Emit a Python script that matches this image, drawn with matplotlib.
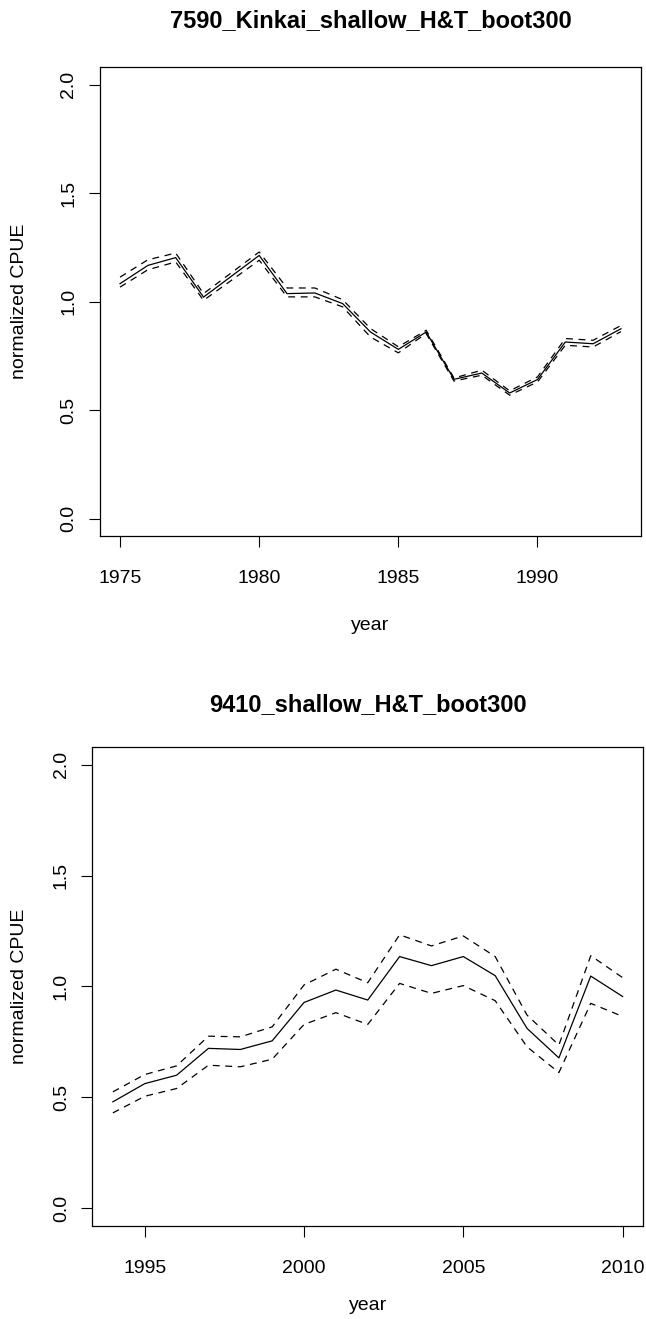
from __future__ import annotations

import matplotlib

matplotlib.use("Agg")
from matplotlib import pyplot as plt


# 7590 Kinkai shallow (top panel)
KINKAI_YEARS = list(range(1975, 1994))
KINKAI_CPUE = [1.083, 1.167, 1.203, 1.021, 1.117, 1.213, 1.037, 1.040, 0.991, 0.860,
               0.780, 0.860, 0.642, 0.671, 0.579, 0.641, 0.814, 0.806, 0.875]
KINKAI_UPPER = [1.113, 1.193, 1.224, 1.037, 1.133, 1.229, 1.063, 1.063, 1.009, 0.876,
                0.792, 0.868, 0.648, 0.684, 0.589, 0.653, 0.830, 0.822, 0.890]
KINKAI_LOWER = [1.067, 1.147, 1.183, 1.006, 1.098, 1.191, 1.022, 1.022, 0.976, 0.837,
                0.764, 0.853, 0.634, 0.661, 0.569, 0.630, 0.799, 0.791, 0.862]

# 9410 shallow (bottom panel)
SHALLOW_YEARS = list(range(1994, 2011))
SHALLOW_CPUE = [0.480, 0.562, 0.600, 0.721, 0.716, 0.755, 0.928, 0.984, 0.939, 1.135,
                1.094, 1.135, 1.049, 0.811, 0.678, 1.047, 0.955]
SHALLOW_UPPER = [0.525, 0.603, 0.642, 0.776, 0.773, 0.818, 1.007, 1.078, 1.017, 1.233,
                 1.183, 1.228, 1.135, 0.871, 0.736, 1.139, 1.040]
SHALLOW_LOWER = [0.430, 0.505, 0.540, 0.645, 0.638, 0.672, 0.829, 0.882, 0.829, 1.014,
                 0.969, 1.004, 0.936, 0.728, 0.612, 0.924, 0.865]

Y_TICKS = [0.0, 0.5, 1.0, 1.5, 2.0]
TOP_X_TICKS = [1975, 1980, 1985, 1990]
BOTTOM_X_TICKS = [1995, 2000, 2005, 2010]

FIG_W, FIG_H = 646, 1319
BASE_FONT_SIZE = 14
TITLE_FONT_SIZE = 17


def _px_rect(left, top, right, bottom):
    # pixel box -> figure fraction
    return [left / FIG_W, 1 - bottom / FIG_H, (right - left) / FIG_W, (bottom - top) / FIG_H]


def draw_panel(fig, rect, years, cpue, upper, lower, xticks, title,
               title_y, xlabel_y, ylabel_x):
    ax = fig.add_axes(rect)
    ax.plot(years, cpue, color="black", linewidth=0.9)
    for band in (upper, lower):
        ax.plot(years, band, color="black", linewidth=0.9, linestyle=(0, (5.5, 4.5)))

    span = years[-1] - years[0]
    ax.set_xlim(years[0] - 0.04 * span, years[-1] + 0.04 * span)
    ax.set_ylim(-0.08, 2.08)
    ax.set_xticks(xticks)
    ax.set_yticks(Y_TICKS)
    ax.set_yticklabels([f"{v:.1f}" for v in Y_TICKS], rotation=90, va="center")

    ax.tick_params(axis="both", direction="out", length=8.2, width=0.8,
                   labelsize=BASE_FONT_SIZE)
    ax.tick_params(axis="x", pad=16)
    ax.tick_params(axis="y", pad=8)
    for spine in ax.spines.values():
        spine.set_linewidth(0.9)

    # R-style label placement: centre of the text at fixed distance from the box
    ax.set_xlabel("year", fontsize=BASE_FONT_SIZE, va="center")
    ax.xaxis.set_label_coords(0.5, xlabel_y)
    ax.set_ylabel("normalized CPUE", fontsize=BASE_FONT_SIZE, va="center")
    ax.yaxis.set_label_coords(ylabel_x, 0.5)

    ax.text(0.5, title_y, title, transform=ax.transAxes, ha="center", va="center",
            fontsize=TITLE_FONT_SIZE, fontweight="bold")
    return ax


def main():
    plt.rcParams.update({
        "font.family": ["Liberation Sans", "DejaVu Sans"],
        "font.size": BASE_FONT_SIZE,
    })
    fig = plt.figure(figsize=(FIG_W / 100, FIG_H / 100), dpi=100)

    draw_panel(fig, _px_rect(100, 67.3, 641, 536),
               KINKAI_YEARS, KINKAI_CPUE, KINKAI_UPPER, KINKAI_LOWER,
               TOP_X_TICKS, "7590_Kinkai_shallow_H&T_boot300",
               title_y=(536 - 21) / 468.7, xlabel_y=(536 - 625) / 468.7,
               ylabel_x=(20 - 100) / 541)
    draw_panel(fig, _px_rect(92.5, 747, 643, 1226),
               SHALLOW_YEARS, SHALLOW_CPUE, SHALLOW_UPPER, SHALLOW_LOWER,
               BOTTOM_X_TICKS, "9410_shallow_H&T_boot300",
               title_y=(1226 - 705) / 479, xlabel_y=(1226 - 1306) / 479,
               ylabel_x=(20 - 92.5) / 550.5)

    fig.savefig("out.png", dpi=100, facecolor="white")
    plt.close(fig)


if __name__ == "__main__":
    main()
